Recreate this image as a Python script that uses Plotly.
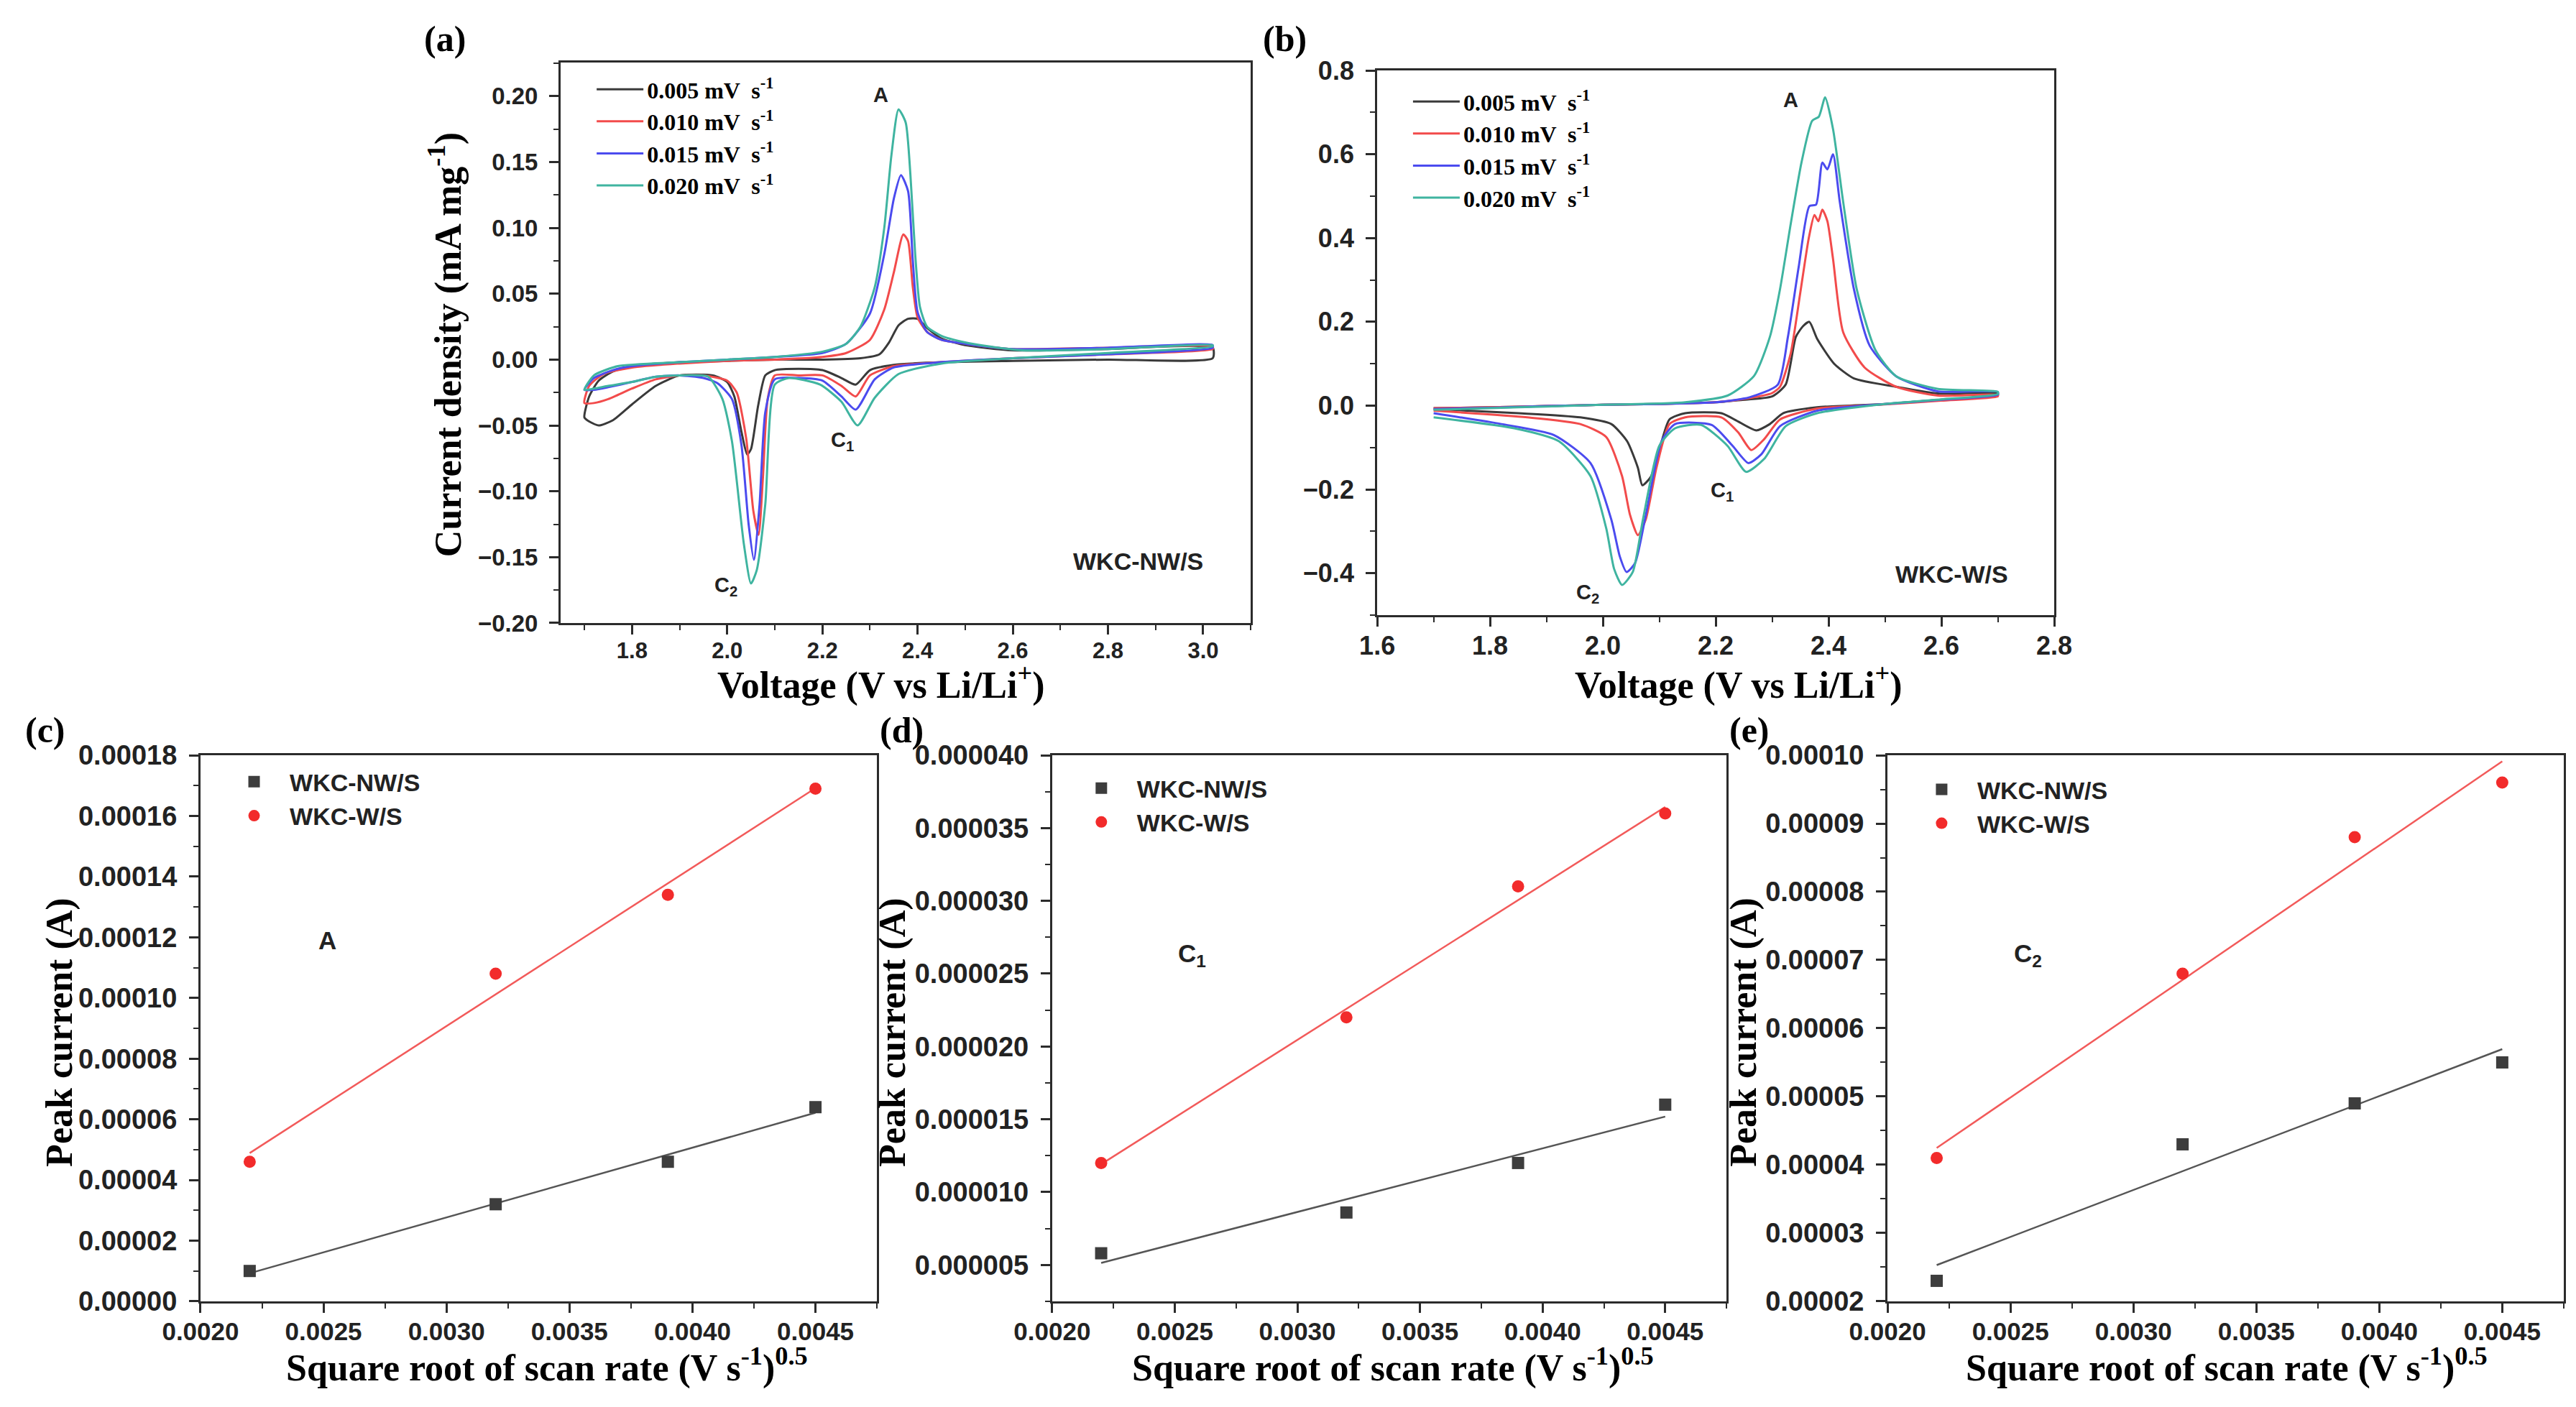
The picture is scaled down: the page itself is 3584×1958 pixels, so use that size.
import numpy as np
import plotly.graph_objects as go

# scan rates for the CV panels
rate_labels = ["0.005", "0.010", "0.015", "0.020"]
cv_colors = ["#3a3a3a", "#f24b4b", "#4b4bef", "#3fb4a0"]

# (a) WKC-NW/S: each loop = anodic sweep 1.7 -> 3.02 V, then cathodic sweep back
a_v_005 = [1.70, 1.71, 1.73, 1.76, 1.80, 1.90, 2.00, 2.10, 2.20, 2.28, 2.32, 2.34, 2.36, 2.38, 2.40, 2.42, 2.45, 2.50, 2.60, 2.80, 3.02,
           3.02, 2.80, 2.60, 2.45, 2.35, 2.30, 2.27, 2.24, 2.20, 2.15, 2.10, 2.08, 2.065, 2.05, 2.042, 2.03, 2.015, 2.00, 1.97, 1.90, 1.85, 1.80, 1.76, 1.73, 1.71, 1.70]
a_i_005 = [-0.044, -0.028, -0.016, -0.009, -0.005, -0.002, -0.001, 0.000, 0.000, 0.001, 0.004, 0.013, 0.026, 0.031, 0.031, 0.024, 0.016, 0.011, 0.007, 0.008, 0.009,
           0.001, 0.000, -0.001, -0.002, -0.004, -0.008, -0.019, -0.014, -0.008, -0.007, -0.008, -0.012, -0.035, -0.068, -0.072, -0.055, -0.028, -0.017, -0.012, -0.012, -0.020, -0.034, -0.046, -0.050, -0.047, -0.044]

a_v_010 = [1.70, 1.71, 1.74, 1.80, 1.90, 2.00, 2.10, 2.20, 2.25, 2.30, 2.33, 2.35, 2.37, 2.38, 2.39, 2.40, 2.42, 2.45, 2.50, 2.60, 2.80, 3.02,
           3.02, 2.80, 2.60, 2.45, 2.35, 2.30, 2.27, 2.24, 2.20, 2.15, 2.10, 2.085, 2.075, 2.066, 2.055, 2.04, 2.02, 2.00, 1.95, 1.90, 1.85, 1.80, 1.75, 1.72, 1.70]
a_i_010 = [-0.033, -0.020, -0.011, -0.006, -0.003, -0.001, 0.000, 0.002, 0.005, 0.015, 0.038, 0.066, 0.095, 0.090, 0.055, 0.032, 0.021, 0.015, 0.012, 0.008, 0.009, 0.010,
           0.008, 0.004, 0.001, -0.002, -0.005, -0.012, -0.028, -0.020, -0.012, -0.012, -0.012, -0.030, -0.090, -0.133, -0.115, -0.060, -0.025, -0.016, -0.012, -0.012, -0.015, -0.022, -0.030, -0.033, -0.033]

a_v_015 = [1.70, 1.72, 1.76, 1.80, 1.90, 2.00, 2.10, 2.20, 2.25, 2.30, 2.33, 2.35, 2.365, 2.38, 2.39, 2.40, 2.42, 2.45, 2.50, 2.60, 2.80, 3.02,
           3.02, 2.80, 2.60, 2.45, 2.35, 2.31, 2.27, 2.24, 2.20, 2.15, 2.10, 2.08, 2.068, 2.056, 2.045, 2.03, 2.01, 1.98, 1.95, 1.90, 1.85, 1.80, 1.75, 1.72, 1.70]
a_i_015 = [-0.023, -0.014, -0.008, -0.005, -0.002, 0.000, 0.002, 0.005, 0.012, 0.035, 0.080, 0.122, 0.140, 0.128, 0.075, 0.036, 0.021, 0.015, 0.012, 0.008, 0.009, 0.011,
           0.009, 0.004, 0.001, -0.002, -0.006, -0.015, -0.038, -0.028, -0.016, -0.014, -0.015, -0.040, -0.110, -0.152, -0.125, -0.065, -0.030, -0.018, -0.014, -0.012, -0.013, -0.017, -0.021, -0.023, -0.023]

a_v_020 = [1.70, 1.72, 1.77, 1.90, 2.00, 2.10, 2.20, 2.25, 2.28, 2.31, 2.33, 2.345, 2.36, 2.375, 2.385, 2.395, 2.405, 2.42, 2.45, 2.50, 2.55, 2.62, 2.80, 3.02,
           3.02, 2.80, 2.60, 2.45, 2.36, 2.31, 2.274, 2.24, 2.195, 2.13, 2.10, 2.08, 2.062, 2.05, 2.035, 2.01, 1.99, 1.96, 1.90, 1.85, 1.80, 1.75, 1.72, 1.70]
a_i_020 = [-0.023, -0.012, -0.005, -0.002, 0.000, 0.002, 0.006, 0.012, 0.025, 0.055, 0.100, 0.155, 0.190, 0.180, 0.140, 0.080, 0.040, 0.025, 0.018, 0.013, 0.010, 0.007, 0.008, 0.011,
           0.010, 0.005, 0.001, -0.003, -0.011, -0.029, -0.050, -0.032, -0.019, -0.014, -0.019, -0.110, -0.160, -0.170, -0.140, -0.062, -0.030, -0.013, -0.012, -0.013, -0.017, -0.020, -0.022, -0.023]

# (b) WKC-W/S
b_v_005 = [1.70, 1.80, 1.90, 2.00, 2.10, 2.20, 2.24, 2.30, 2.324, 2.342, 2.355, 2.366, 2.38, 2.41, 2.445, 2.52, 2.594, 2.70,
           2.70, 2.60, 2.50, 2.38, 2.32, 2.296, 2.272, 2.24, 2.21, 2.146, 2.118, 2.10, 2.085, 2.07, 2.062, 2.043, 2.015, 1.96, 1.85, 1.70]
b_i_005 = [-0.006, -0.004, -0.001, 0.002, 0.004, 0.008, 0.013, 0.022, 0.050, 0.164, 0.190, 0.200, 0.159, 0.100, 0.065, 0.045, 0.029, 0.029,
           0.024, 0.014, 0.004, -0.004, -0.018, -0.044, -0.059, -0.038, -0.018, -0.018, -0.033, -0.106, -0.170, -0.190, -0.148, -0.085, -0.044, -0.028, -0.018, -0.008]

b_v_010 = [1.70, 1.80, 1.90, 2.00, 2.10, 2.20, 2.26, 2.30, 2.314, 2.333, 2.35, 2.365, 2.375, 2.382, 2.389, 2.398, 2.408, 2.426, 2.464, 2.52, 2.594, 2.70,
           2.70, 2.60, 2.50, 2.38, 2.314, 2.286, 2.263, 2.24, 2.21, 2.146, 2.118, 2.095, 2.076, 2.062, 2.048, 2.034, 2.006, 1.96, 1.866, 1.70]
b_i_010 = [-0.006, -0.004, -0.001, 0.002, 0.004, 0.008, 0.018, 0.030, 0.045, 0.125, 0.270, 0.400, 0.455, 0.440, 0.468, 0.440, 0.350, 0.175, 0.091, 0.045, 0.024, 0.026,
           0.022, 0.012, 0.003, -0.007, -0.033, -0.080, -0.106, -0.064, -0.028, -0.028, -0.044, -0.148, -0.272, -0.309, -0.260, -0.168, -0.075, -0.044, -0.028, -0.012]

b_v_015 = [1.70, 1.80, 1.90, 2.00, 2.10, 2.20, 2.26, 2.31, 2.328, 2.347, 2.366, 2.378, 2.389, 2.398, 2.408, 2.42, 2.445, 2.473, 2.52, 2.594, 2.70,
           2.70, 2.60, 2.50, 2.38, 2.314, 2.281, 2.258, 2.23, 2.193, 2.128, 2.104, 2.076, 2.057, 2.042, 2.03, 2.015, 1.978, 1.913, 1.82, 1.70]
b_i_015 = [-0.008, -0.005, -0.001, 0.002, 0.004, 0.008, 0.020, 0.050, 0.164, 0.330, 0.476, 0.480, 0.580, 0.564, 0.600, 0.486, 0.278, 0.143, 0.070, 0.034, 0.033,
           0.026, 0.014, 0.004, -0.012, -0.049, -0.116, -0.137, -0.096, -0.046, -0.044, -0.085, -0.262, -0.376, -0.397, -0.360, -0.272, -0.137, -0.070, -0.044, -0.018]

b_v_020 = [1.70, 1.80, 1.90, 2.00, 2.10, 2.146, 2.221, 2.268, 2.296, 2.314, 2.333, 2.352, 2.371, 2.383, 2.394, 2.408, 2.426, 2.45, 2.483, 2.52, 2.594, 2.70,
           2.70, 2.60, 2.50, 2.38, 2.324, 2.286, 2.254, 2.221, 2.174, 2.128, 2.10, 2.071, 2.053, 2.034, 2.02, 2.006, 1.978, 1.922, 1.843, 1.70]
b_i_020 = [-0.010, -0.006, -0.002, 0.002, 0.005, 0.008, 0.024, 0.071, 0.164, 0.278, 0.434, 0.580, 0.680, 0.690, 0.736, 0.660, 0.486, 0.278, 0.133, 0.070, 0.040, 0.033,
           0.028, 0.015, 0.004, -0.018, -0.049, -0.127, -0.158, -0.096, -0.046, -0.054, -0.096, -0.272, -0.397, -0.428, -0.390, -0.293, -0.168, -0.085, -0.054, -0.028]

# (c)-(e) peak current vs square root of scan rate
sqrt_rate = [0.0022, 0.0032, 0.0039, 0.0045]
c_nw = [0.0000100, 0.0000320, 0.0000460, 0.0000640]
c_w = [0.0000460, 0.0001080, 0.0001340, 0.0001690]
d_nw = [0.0000058, 0.0000086, 0.0000120, 0.0000160]
d_w = [0.0000120, 0.0000220, 0.0000310, 0.0000360]
e_nw = [0.0000230, 0.0000430, 0.0000490, 0.0000550]
e_w = [0.0000410, 0.0000680, 0.0000880, 0.0000960]

SANS = "Liberation Sans, Arial, sans-serif"
SERIF = "Liberation Serif, Times New Roman, serif"
INK = "#2b2b2b"

fig = go.Figure()

cv_a = [(a_v_005, a_i_005), (a_v_010, a_i_010), (a_v_015, a_i_015), (a_v_020, a_i_020)]
cv_b = [(b_v_005, b_i_005), (b_v_010, b_i_010), (b_v_015, b_i_015), (b_v_020, b_i_020)]

for k, (v, i) in enumerate(cv_a):
    fig.add_trace(go.Scatter(x=v, y=i, mode="lines",
                             line=dict(color=cv_colors[k], width=3, shape="spline", smoothing=0.6),
                             name=f"{rate_labels[k]} mV  s<sup>-1</sup>", legend="legend",
                             xaxis="x", yaxis="y"))
for k, (v, i) in enumerate(cv_b):
    fig.add_trace(go.Scatter(x=v, y=i, mode="lines",
                             line=dict(color=cv_colors[k], width=3, shape="spline", smoothing=0.6),
                             name=f"{rate_labels[k]} mV  s<sup>-1</sup>", legend="legend2",
                             xaxis="x2", yaxis="y2"))

lin_panels = [(c_nw, c_w, "3", "legend3"), (d_nw, d_w, "4", "legend4"), (e_nw, e_w, "5", "legend5")]
for nw, w, n, lg in lin_panels:
    for ys, name, color, sym, lcol in [(nw, "WKC-NW/S", "#3d3d3d", "square", "#555555"),
                                       (w, "WKC-W/S", "#f22b2b", "circle", "#f25a5a")]:
        slope, icpt = np.polyfit(sqrt_rate, ys, 1)
        xf = [sqrt_rate[0], sqrt_rate[-1]]
        fig.add_trace(go.Scatter(x=xf, y=[slope * x + icpt for x in xf], mode="lines",
                                 line=dict(color=lcol, width=2.5), showlegend=False,
                                 xaxis="x" + n, yaxis="y" + n))
        fig.add_trace(go.Scatter(x=sqrt_rate, y=ys, mode="markers", name=name, legend=lg,
                                 marker=dict(symbol=sym, size=17, color=color),
                                 xaxis="x" + n, yaxis="y" + n))


def axis(domain, rng, dtick, minor_dtick, size, fmt, anchor, standoff):
    return dict(domain=domain, range=rng, dtick=dtick, tick0=0, tickformat=fmt, showline=True,
                linecolor=INK, linewidth=3, mirror=True, ticks="outside", ticklen=13, tickwidth=3,
                tickcolor=INK, ticklabelstandoff=standoff, showgrid=False, zeroline=False,
                automargin=False, anchor=anchor,
                tickfont=dict(family=SANS, size=size, color="#222222", weight="bold"),
                minor=dict(ticks="outside", ticklen=7, tickwidth=2, tickcolor=INK,
                           dtick=minor_dtick, tick0=0, showgrid=False))


row_top_a = [0.5613, 0.9597]
row_top_b = [0.5669, 0.9540]
row_bot = [0.0792, 0.4673]

fig.update_layout(
    width=3584, height=1958, margin=dict(l=0, r=0, t=0, b=0),
    template="none", paper_bgcolor="white", plot_bgcolor="white",
    xaxis=axis([0.2154, 0.4833], [1.65, 3.1], 0.2, 0.1, 31, ".1f", "y", -4),
    yaxis=axis(row_top_a, [-0.2, 0.2256], 0.05, 0.025, 33, ".2f", "x", 9),
    xaxis2=axis([0.5324, 0.7952], [1.6, 2.8], 0.2, 0.1, 36, ".1f", "y2", -4),
    yaxis2=axis(row_top_b, [-0.5, 0.8], 0.2, 0.1, 36, ".1f", "x2", 9),
    xaxis3=axis([0.0756, 0.3382], [0.002, 0.00475], 0.0005, 0.00025, 35, ".4f", "y3", -4),
    yaxis3=axis(row_bot, [0, 0.00018], 0.00002, 0.00001, 38, ".5f", "x3", 9),
    xaxis4=axis([0.4062, 0.6680], [0.002, 0.00475], 0.0005, 0.00025, 35, ".4f", "y4", -4),
    yaxis4=axis(row_bot, [0.0000025, 0.00004], 0.000005, 0.0000025, 38, ".6f", "x4", 9),
    xaxis5=axis([0.7305, 0.9930], [0.002, 0.00475], 0.0005, 0.00025, 35, ".4f", "y5", -4),
    yaxis5=axis(row_bot, [0.00002, 0.0001], 0.00001, 0.000005, 38, ".5f", "x5", 9),
)

cv_legend_font = dict(family=SERIF, size=32, color="black", weight="bold")
pk_legend_font = dict(family=SANS, size=34, color="#222222", weight="bold")
fig.update_layout(
    legend=dict(x=0.228, y=0.9546, xanchor="left", yanchor="top", bgcolor="rgba(0,0,0,0)",
                font=cv_legend_font, tracegroupgap=0, itemwidth=65),
    legend2=dict(x=0.5449, y=0.9459, xanchor="left", yanchor="top", bgcolor="rgba(0,0,0,0)",
                 font=cv_legend_font, tracegroupgap=0, itemwidth=65),
    legend3=dict(x=0.0826, y=0.4631, xanchor="left", yanchor="top", bgcolor="rgba(0,0,0,0)",
                 font=pk_legend_font, itemwidth=89),
    legend4=dict(x=0.4115, y=0.4586, xanchor="left", yanchor="top", bgcolor="rgba(0,0,0,0)",
                 font=pk_legend_font, itemwidth=89),
    legend5=dict(x=0.7377, y=0.4577, xanchor="left", yanchor="top", bgcolor="rgba(0,0,0,0)",
                 font=pk_legend_font, itemwidth=89),
)

# axis titles
title_font = dict(family=SERIF, size=52, color="black", weight="bold")
xt_v = "Voltage (V vs Li/Li<sup>+</sup>)"
xt_sq = "Square root of scan rate (V s<sup>-1</sup>)<sup>0.5</sup>"
yt_pk = "Peak current (A)"
axis_titles = [
    (0.3398, 0.5189, xt_v, 0), (0.6727, 0.5189, xt_v, 0),
    (0.2101, 0.0337, xt_sq, 0), (0.5385, 0.0337, xt_sq, 0), (0.8622, 0.0337, xt_sq, 0),
    (0.1708, 0.7589, "Current density (mA mg<sup>-1</sup>)", -90),
    (0.0209, 0.2707, yt_pk, -90), (0.3443, 0.2707, yt_pk, -90), (0.6746, 0.2707, yt_pk, -90),
]
for x, y, t, ang in axis_titles:
    fig.add_annotation(xref="paper", yref="paper", x=x, y=y, text=t, textangle=ang,
                       showarrow=False, font=title_font, xanchor="center", yanchor="middle")

# peak labels inside the panels
top_font = dict(family=SANS, size=29, color="#222222", weight="bold")
bot_font = dict(family=SANS, size=35, color="#222222", weight="bold")
peak_labels = [
    ("x", "y", 2.323, 0.201, "A", top_font), ("x", "y", 2.242, -0.062, "C<sub>1</sub>", top_font),
    ("x", "y", 1.998, -0.172, "C<sub>2</sub>", top_font),
    ("x2", "y2", 2.333, 0.73, "A", top_font), ("x2", "y2", 2.212, -0.205, "C<sub>1</sub>", top_font),
    ("x2", "y2", 1.973, -0.449, "C<sub>2</sub>", top_font),
    ("x3", "y3", 0.002515, 0.0001189, "A", bot_font),
    ("x4", "y4", 0.00257, 0.0000263, "C<sub>1</sub>", bot_font),
    ("x5", "y5", 0.002572, 0.0000707, "C<sub>2</sub>", bot_font),
]
for xr, yr, x, y, t, f in peak_labels:
    fig.add_annotation(xref=xr, yref=yr, x=x, y=y, text=t, showarrow=False, font=f,
                       xanchor="center", yanchor="middle")

sample_font = dict(family=SANS, size=34, color="#222222", weight="bold")
fig.add_annotation(xref="x", yref="y", x=2.864, y=-0.153, text="WKC-NW/S", showarrow=False,
                   font=sample_font, xanchor="center", yanchor="middle")
fig.add_annotation(xref="x2", yref="y2", x=2.618, y=-0.402, text="WKC-W/S", showarrow=False,
                   font=sample_font, xanchor="center", yanchor="middle")

panel_font = dict(family=SERIF, size=50, color="black", weight="bold")
for x, y, t in [(0.1705, 0.9765, "(a)"), (0.4964, 0.9765, "(b)"), (0.0153, 0.4852, "(c)"),
                (0.3477, 0.4852, "(d)"), (0.6769, 0.4852, "(e)")]:
    fig.add_annotation(xref="paper", yref="paper", x=x, y=y, text=t, showarrow=False,
                       font=panel_font, xanchor="center", yanchor="middle")

fig.write_html("out.html")
